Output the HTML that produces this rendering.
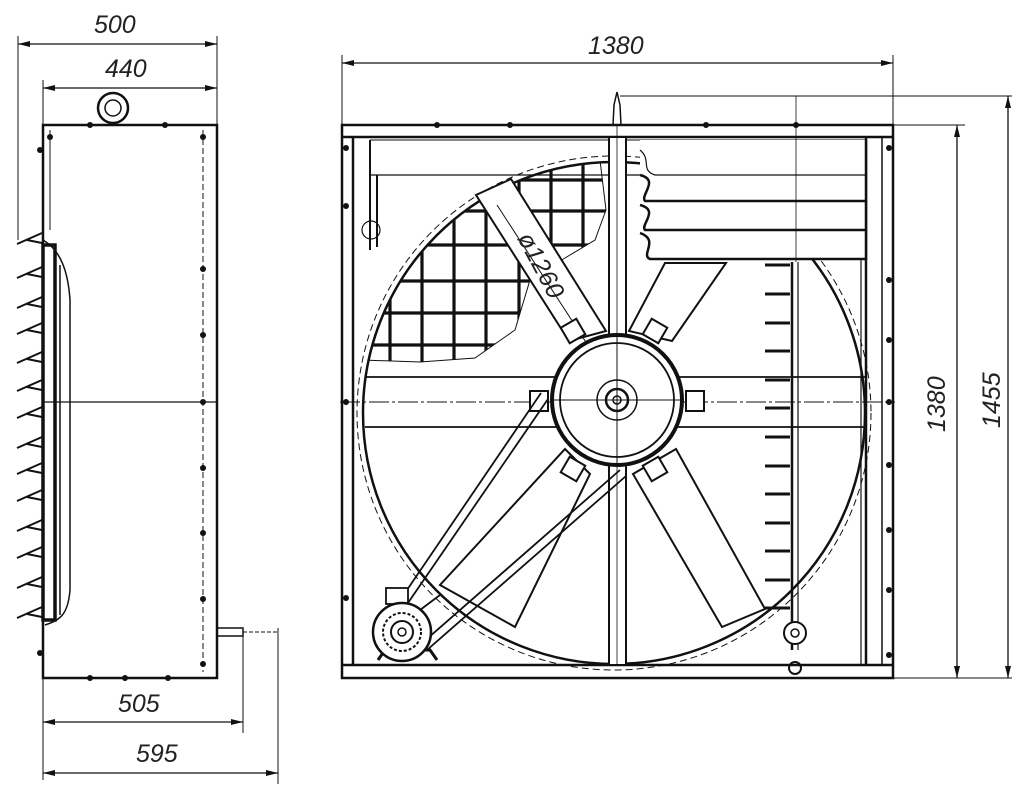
<!DOCTYPE html>
<html><head><meta charset="utf-8"><style>
html,body{margin:0;padding:0;background:#fff}
svg{display:block}
text{font-family:"Liberation Sans",sans-serif;font-style:italic;font-size:25px;fill:#222}
</style></head><body>
<svg width="1024" height="794" viewBox="0 0 1024 794" xmlns="http://www.w3.org/2000/svg">
<defs>
<marker id="a" viewBox="0 0 12 6" refX="12" refY="3" markerWidth="12" markerHeight="6" orient="auto-start-reverse" markerUnits="userSpaceOnUse"><path d="M0,0L12,3L0,6z" fill="#111"/></marker>
<clipPath id="gc"><path d="M362,360 L360,240 L395,195 L440,172 L480,165 L520,160 L575,150 L600,160 L606,210 L595,240 L565,258 L530,280 L515,330 L475,358 L420,362 Z"/></clipPath>
<clipPath id="cc"><circle cx="614" cy="413" r="250"/></clipPath>
</defs>
<g stroke="#111" fill="none">
<line x1="18" y1="36" x2="18" y2="240" stroke-width="1"/>
<line x1="217" y1="36" x2="217" y2="125" stroke-width="1"/>
<line x1="43" y1="80" x2="43" y2="125" stroke-width="1"/>
<line x1="18" y1="44" x2="217" y2="44" stroke-width="1.3" marker-start="url(#a)" marker-end="url(#a)"/>
<line x1="43" y1="88" x2="217" y2="88" stroke-width="1.3" marker-start="url(#a)" marker-end="url(#a)"/>
<line x1="43" y1="678" x2="43" y2="780" stroke-width="1"/>
<line x1="243" y1="628" x2="243" y2="733" stroke-width="1"/>
<line x1="278" y1="628" x2="278" y2="784" stroke-width="1"/>
<line x1="43" y1="722" x2="243" y2="722" stroke-width="1.3" marker-start="url(#a)" marker-end="url(#a)"/>
<line x1="43" y1="773" x2="278" y2="773" stroke-width="1.3" marker-start="url(#a)" marker-end="url(#a)"/>
<rect x="43" y="125" width="174" height="553" stroke-width="2.5"/>
<line x1="203" y1="130" x2="203" y2="672" stroke-width="1" stroke-dasharray="6 3"/>
<line x1="50" y1="130" x2="50" y2="230" stroke-width="1"/>
<line x1="43" y1="402" x2="217" y2="402" stroke-width="1.2"/>
<g fill="#111" stroke="none">
<circle cx="203" cy="137" r="3"/><circle cx="203" cy="269" r="3"/><circle cx="203" cy="335" r="3"/><circle cx="203" cy="402" r="3"/><circle cx="203" cy="468" r="3"/><circle cx="203" cy="533" r="3"/><circle cx="203" cy="599" r="3"/><circle cx="203" cy="664" r="3"/>
<circle cx="50" cy="137" r="3"/><circle cx="90" cy="125" r="3"/><circle cx="165" cy="125" r="3"/><circle cx="40" cy="150" r="3"/><circle cx="40" cy="653" r="3"/><circle cx="90" cy="678" r="3"/><circle cx="125" cy="678" r="3"/><circle cx="168" cy="678" r="3"/>
</g>
<circle cx="113" cy="108" r="15" stroke-width="2.5"/><circle cx="113" cy="108" r="8" stroke-width="1.5"/>
<path d="M43,240 C60,250 68,270 70,300 L70,590 C68,615 60,620 45,625" stroke-width="1.5"/>
<line x1="60" y1="265" x2="60" y2="615" stroke-width="1.5"/>
<rect x="43" y="245" width="12" height="375" stroke-width="3.5"/>
<g stroke-width="2">
<path d="M17,244 L42,233 M27,240 L42,243"/><path d="M17,278 L42,267 M27,274 L42,277"/><path d="M17,308 L42,297 M27,304 L42,307"/><path d="M17,334 L42,323 M27,330 L42,333"/><path d="M17,363 L42,352 M27,359 L42,362"/><path d="M17,391 L42,380 M27,387 L42,390"/><path d="M17,418 L42,407 M27,414 L42,417"/><path d="M17,448 L42,437 M27,444 L42,447"/><path d="M17,474 L42,463 M27,470 L42,473"/><path d="M17,501 L42,490 M27,497 L42,500"/><path d="M17,531 L42,520 M27,527 L42,530"/><path d="M17,558 L42,547 M27,554 L42,557"/><path d="M17,588 L42,577 M27,584 L42,587"/><path d="M17,618 L42,607 M27,614 L42,617"/>
</g>
<rect x="217" y="628" width="26" height="8" stroke-width="1.5"/>
<line x1="243" y1="632" x2="278" y2="632" stroke-width="1" stroke-dasharray="4 2"/>

<line x1="342" y1="55" x2="342" y2="125" stroke-width="1"/>
<line x1="893" y1="55" x2="893" y2="125" stroke-width="1"/>
<line x1="342" y1="63" x2="893" y2="63" stroke-width="1.3" marker-start="url(#a)" marker-end="url(#a)"/>
<line x1="620" y1="96" x2="1012" y2="96" stroke-width="1"/>
<line x1="893" y1="125" x2="965" y2="125" stroke-width="1"/>
<line x1="893" y1="678" x2="1012" y2="678" stroke-width="1"/>
<line x1="957" y1="125" x2="957" y2="678" stroke-width="1.3" marker-start="url(#a)" marker-end="url(#a)"/>
<line x1="1008" y1="96" x2="1008" y2="678" stroke-width="1.3" marker-start="url(#a)" marker-end="url(#a)"/>

<rect x="342" y="125" width="551" height="553" stroke-width="2.5"/>
<line x1="342" y1="137" x2="893" y2="137" stroke-width="2.5"/>
<line x1="342" y1="665" x2="893" y2="665" stroke-width="2.5"/>
<line x1="353" y1="137" x2="353" y2="665" stroke-width="2.5"/>
<line x1="882" y1="137" x2="882" y2="665" stroke-width="1.5"/>
<line x1="866" y1="137" x2="866" y2="665" stroke-width="2.5"/>
<line x1="861" y1="260" x2="861" y2="665" stroke-width="1.2"/>
<path d="M370,140 L370,250 M377,175 L377,247" stroke-width="2"/>
<circle cx="371" cy="230" r="9" stroke-width="1.2"/>
<line x1="370" y1="175" x2="866" y2="175" stroke-width="1.2"/>
<path d="M370,140 L866,140" stroke-width="1"/>
<g fill="#111" stroke="none">
<circle cx="346" cy="148" r="3"/><circle cx="346" cy="206" r="3"/><circle cx="346" cy="402" r="3"/><circle cx="346" cy="598" r="3"/><circle cx="889" cy="280" r="3"/><circle cx="889" cy="340" r="3"/><circle cx="889" cy="402" r="3"/><circle cx="889" cy="465" r="3"/><circle cx="889" cy="530" r="3"/><circle cx="889" cy="590" r="3"/><circle cx="889" cy="148" r="3"/><circle cx="889" cy="655" r="3"/>
<circle cx="437" cy="125" r="3"/><circle cx="510" cy="125" r="3"/><circle cx="706" cy="125" r="3"/><circle cx="796" cy="125" r="3"/>
</g>

<circle cx="614" cy="413" r="251" stroke-width="2.5"/>
<circle cx="614" cy="413" r="257" stroke-width="1" stroke-dasharray="7 4"/>
<line x1="365" y1="377" x2="866" y2="377" stroke-width="1.8"/>
<line x1="365" y1="427" x2="866" y2="427" stroke-width="1.8"/>
<line x1="340" y1="402" x2="895" y2="402" stroke-width="1" stroke-dasharray="20 3 3 3"/>

<g clip-path="url(#cc)">
<path d="M362,360 L360,240 L395,195 L440,172 L480,165 L520,160 L575,150 L600,160 L606,210 L595,240 L565,258 L530,280 L515,330 L475,358 L420,362 Z" stroke-width="1"/>
<g clip-path="url(#gc)" stroke-width="3.2">
<path d="M390,150V370M422,150V370M454,150V370M486,150V370M519,150V370M551,150V370M583,150V370"/>
<path d="M355,180H610M355,211H610M355,245H610M355,281H610M355,313H610M355,345H610"/>
</g>
</g>

<rect x="640" y="140" width="226" height="120" fill="#fff" stroke="none"/>
<path d="M640,150 C652,160 640,170 655,175 L866,175" stroke-width="1.2"/>
<path d="M640,175 C660,180 640,195 645,201 L866,201" stroke-width="2.5"/>
<path d="M640,205 C660,210 640,225 645,230 L866,230" stroke-width="2.5"/>
<path d="M640,233 C660,240 640,255 650,259 L866,259" stroke-width="2.5"/>
<line x1="866" y1="140" x2="866" y2="260" stroke-width="2.5"/>

<g fill="#fff" stroke-width="2">
<polygon points="476,195 511,179 606,331 569,341"/>
<polygon points="665,263 726,263 672,341 629,331"/>
<polygon points="676,449 765,609 722,627 633,474"/>
<polygon points="565,449 590,474 515,627 440,585"/>
</g>
<line x1="497" y1="205" x2="604" y2="370" stroke-width="1"/>

<rect x="609" y="137" width="17" height="528" fill="#fff" stroke-width="2"/>
<line x1="617" y1="125" x2="617" y2="665" stroke-width="0.8"/>
<path d="M613,125 L614,105 L617,92 L620,105 L621,125" stroke-width="1.5"/>

<line x1="792" y1="262" x2="792" y2="650" stroke-width="2.5"/>
<line x1="798" y1="262" x2="798" y2="650" stroke-width="1.2"/>
<line x1="796" y1="96" x2="796" y2="262" stroke-width="0.8"/>
<g stroke-width="3">
<path d="M765,265H790M765,294H790M765,323H790M765,351H790M765,380H790M765,408H790M765,437H790M765,466H790M765,494H790M765,523H790M765,551H790M765,580H790M765,608H790"/>
</g>
<circle cx="795" cy="633" r="11" stroke-width="2" fill="#fff"/><circle cx="795" cy="633" r="4" stroke-width="1.5"/>
<circle cx="795" cy="668" r="6" stroke-width="2"/>

<g stroke-width="2" fill="#fff">
<rect x="564" y="322" width="18" height="18" transform="rotate(-30 573 331)"/>
<rect x="646" y="322" width="18" height="18" transform="rotate(30 655 331)"/>
<rect x="530" y="391" width="18" height="20"/>
<rect x="686" y="391" width="18" height="20"/>
<rect x="564" y="460" width="18" height="18" transform="rotate(30 573 469)"/>
<rect x="646" y="460" width="18" height="18" transform="rotate(-30 655 469)"/>
</g>
<circle cx="617" cy="400" r="65" stroke-width="4" fill="#fff"/>
<circle cx="617" cy="400" r="57" stroke-width="1.8"/>
<circle cx="617" cy="400" r="20" stroke-width="1.5"/>
<circle cx="617" cy="400" r="11" stroke-width="2.5"/>
<circle cx="617" cy="400" r="4" stroke-width="1.5"/>
<line x1="552" y1="400" x2="682" y2="400" stroke-width="1"/>
<line x1="617" y1="335" x2="617" y2="465" stroke-width="1"/>

<path d="M541,393 L392,612 M548,399 L399,616" stroke-width="1.8"/>
<path d="M620,470 L420,645 M626,476 L427,650" stroke-width="1.8"/>

<rect x="386" y="588" width="22" height="16" stroke-width="1.8" fill="#fff"/>
<path d="M378,660 L385,650 L430,650 L437,660" stroke-width="3"/>
<circle cx="402" cy="632" r="29" stroke-width="2.5" fill="#fff"/>
<circle cx="402" cy="632" r="19" stroke-width="2" stroke-dasharray="3 2"/>
<circle cx="402" cy="632" r="11" stroke-width="2"/>
<circle cx="402" cy="632" r="4" stroke-width="1.5"/>
<path d="M420,610 L440,595" stroke-width="1.8"/>
</g>

<text x="94" y="33">500</text>
<text x="105" y="77">440</text>
<text x="118" y="712">505</text>
<text x="136" y="762">595</text>
<text x="588" y="54">1380</text>
<text x="0" y="0" transform="translate(945,432) rotate(-90)">1380</text>
<text x="0" y="0" transform="translate(1000,428) rotate(-90)">1455</text>
<text x="0" y="0" font-size="22" transform="translate(517,238) rotate(62)">ø1260</text>
</svg>
</body></html>
